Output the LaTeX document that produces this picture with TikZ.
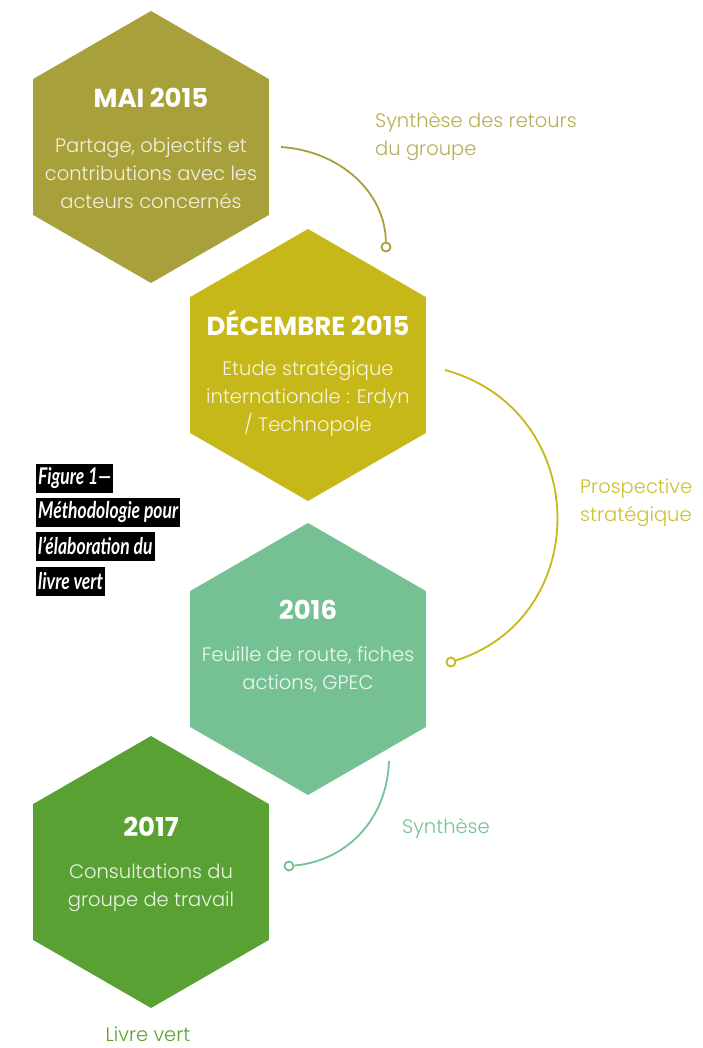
\documentclass[tikz,border=0pt]{standalone}
\usepackage{fontspec}
\setmainfont{Poppins}[UprightFont=* Light, BoldFont=* Bold]
\newfontfamily\capfont{Lato}[FakeStretch=0.76]
\usetikzlibrary{shapes.geometric}
\definecolor{maiCol}{HTML}{A8A03A}
\definecolor{decCol}{HTML}{C7B81A}
\definecolor{seizeCol}{HTML}{76C193}
\definecolor{dixseptCol}{HTML}{59A133}
\newcommand{\titre}{\fontsize{26}{30}\selectfont\bfseries}
\newcommand{\corps}{\fontsize{19.5}{28}\selectfont}

\begin{document}
\begin{tikzpicture}[x=1pt, y=-1pt,
	hexa/.style={regular polygon, regular polygon sides=6, rotate=30, minimum size=272pt, inner sep=0pt},
	titrenode/.style={text=white, inner sep=0pt},
	corpsnode/.style={align=center, inner sep=0pt},
	dot/.style={circle, draw, fill=white, line width=1.8pt, inner sep=0pt, minimum size=9pt},
	lien/.style={line width=1.8pt},
	legende/.style={anchor=west, align=left, inner sep=0pt, font=\corps},
	figcap/.style={anchor=west, fill=black, text=white, inner sep=2pt, minimum height=29pt, font=\capfont\bfseries\itshape\fontsize{23}{25}\selectfont}]
\useasboundingbox (0,0) rectangle (702,1048);

\node[hexa, fill=maiCol] (mai) at (151,147) {};
\node[hexa, fill=decCol] (dec) at (308,365) {};
\node[hexa, fill=seizeCol] (seize) at (308,659) {};
\node[hexa, fill=dixseptCol] (dixsept) at (151,872) {};

\node[titrenode, font=\titre] (maiT) at (151,98) {MAI 2015};
\node[corpsnode, font=\corps, text=white!85!maiCol] (maiB) at (151,173) {Partage, objectifs et\\contributions avec les\\acteurs concernés};

\node[titrenode, font=\titre] (decT) at (308,323) {DÉCEMBRE 2015};
\node[corpsnode, font=\corps, text=white!85!decCol] (decB) at (308,399) {Etude stratégique\\internationale : Erdyn\\/ Technopole};

\node[titrenode, font=\titre] (seizeT) at (308,610) {2016};
\node[corpsnode, font=\corps, text=white!88!seizeCol] (seizeB) at (308,670) {Feuille de route, fiches\\actions, GPEC};

\node[titrenode, font=\titre] (dixseptT) at (151,827) {2017};
\node[corpsnode, font=\corps, text=white!88!dixseptCol] (dixseptB) at (151,888) {Consultations du\\groupe de travail};

%\draw (151, 1035) node{Livre vert};
\node[legende, text=maiCol!85!white] (synth1) at (375,137) {Synthèse des retours\\du groupe};
\node[legende, text=decCol!90!white] (prosp) at (580,503) {Prospective\\stratégique};
\node[legende, text=seizeCol] (synth2) at (402,828) {Synthèse};
\node[legende, anchor=center, text=dixseptCol] (livre) at (148,1034) {Livre vert};

\node[figcap] (cap1) at (36,478) {Figure 1—};
\node[figcap] (cap2) at (36,512) {Méthodologie pour};
\node[figcap] (cap3) at (36,546) {l’élaboration du};
\node[figcap] (cap4) at (36,581) {livre vert};

\coordinate (l1a) at (281,147);
\node[dot, draw=maiCol] (l1b) at (386,247) {};
\draw[lien, draw=maiCol] (l1a) .. controls (340,151) and (385,192) .. (l1b);

\coordinate (l2a) at (445,370);
\node[dot, draw=decCol] (l2b) at (451,662) {};
\draw[lien, draw=decCol] (l2a) .. controls (591,410) and (595,616) .. (l2b);

\coordinate (l3a) at (389,761);
\node[dot, draw=seizeCol] (l3b) at (289,866) {};
\draw[lien, draw=seizeCol] (l3a) .. controls (387,820) and (346,861) .. (l3b);

\end{tikzpicture}
\end{document}
